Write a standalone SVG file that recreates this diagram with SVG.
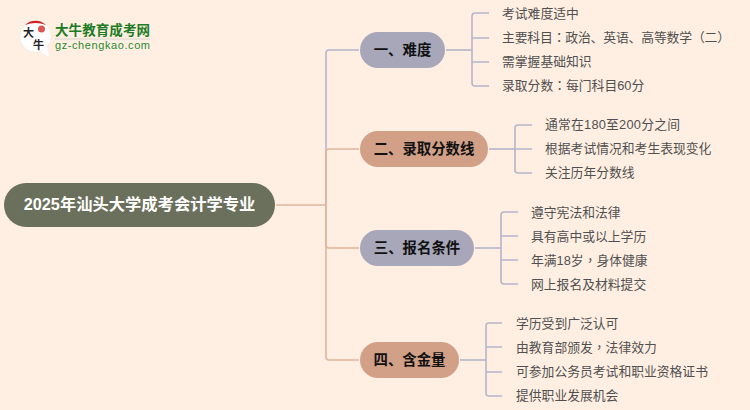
<svg xmlns="http://www.w3.org/2000/svg" width="750" height="410" viewBox="0 0 750 410">
<style>
text{font-family:"Liberation Sans","Noto Sans CJK SC",sans-serif}
.c{fill:none;stroke-width:1.6;stroke-linejoin:round}
.b{stroke:#b5b5cb}.o{stroke:#e0b49c}
.n{font-size:14.400px;font-weight:700;fill:#111;text-anchor:middle}
.l{font-size:12.800px;fill:#505050}
.t{font-family:"Liberation Sans","Noto Sans CJK TC",sans-serif}
.pb{fill:#a7a7b9}.po{fill:#d1a086}
</style>
<rect width="750" height="410" fill="#ffefe2"/>
<g id="logo">
<circle cx="35.500" cy="36.500" r="15.700" fill="#fff" stroke="#e5e5e5" stroke-width="0.500"/>
<path d="M47 47l-6 5 8 5z" fill="#fff"/>
<path d="M25 25a15 15 0 0 1 21 0q-10-4-21 0z" fill="#c22"/>
<circle cx="41.500" cy="29" r="3.500" fill="#d55"/>
<text x="23" y="37" font-size="11" font-weight="700" fill="#222">大</text>
<text x="33" y="48.500" font-size="11" font-weight="700" fill="#222">牛</text>
<text x="55" y="35" font-size="13.500" font-weight="700" fill="#1c7c25" textLength="95">大牛教育成考网</text>
<rect x="55" y="38.500" width="95" height="1" fill="#d8d8c8"/>
<text x="55" y="49" font-size="11" font-weight="400" fill="#2a8a32" textLength="95">gz-chengkao.com</text>
</g>
<g id="connectors">
<path class="c o" d="M276 205H326"/>
<path class="c b" d="M326 205V53a3 3 0 0 1 3-3H359"/>
<path class="c o" d="M326 205V152a3 3 0 0 1 3-3H359"/>
<path class="c o" d="M326 205V245a3 3 0 0 0 3 3H359"/>
<path class="c o" d="M326 205V357a3 3 0 0 0 3 3H359"/>
<path class="c b" d="M446 50H472"/>
<path class="c b" d="M472 16a3 3 0 0 1 3-3H489M472 16V83a3 3 0 0 0 3 3H489M472 38H489M472 62H489"/>
<path class="c b" d="M489 149H515"/>
<path class="c b" d="M515 128a3 3 0 0 1 3-3H532M515 128V170a3 3 0 0 0 3 3H532M515 149H532"/>
<path class="c b" d="M475 248H501"/>
<path class="c b" d="M501 215a3 3 0 0 1 3-3H518M501 215V281a3 3 0 0 0 3 3H518M501 236H518M501 260H518"/>
<path class="c b" d="M460 360H486"/>
<path class="c b" d="M486 326a3 3 0 0 1 3-3H502M486 326V393a3 3 0 0 0 3 3H502M486 347H502M486 372H502"/>
</g>
<g id="root"><rect x="4" y="183" width="271" height="44" rx="22" fill="#6b705c"/><text x="139.500" y="210" font-size="16.300" font-weight="700" fill="#fff" text-anchor="middle">2025年汕头大学成考会计学专业</text></g>
<g id="n1"><rect x="360" y="32" width="85" height="36" rx="18" class="pb"/><text x="402.500" y="55" class="n">一、难度</text></g>
<g id="n2"><rect x="360" y="131" width="128" height="36" rx="18" class="po"/><text x="424" y="154" class="n">二、录取分数线</text></g>
<g id="n3"><rect x="360" y="230" width="114" height="36" rx="18" class="pb"/><text x="417" y="253" class="n">三、报名条件</text></g>
<g id="n4"><rect x="360" y="342" width="99" height="36" rx="18" class="po"/><text x="409.500" y="365" class="n">四、含金量</text></g>
<g id="leaves">
<text class="l" x="502" y="18">考试难度适中</text>
<text class="l" x="502" y="42" textLength="228">主要科目<tspan class="t">：</tspan>政治、英语、高等数学<tspan class="t">（</tspan>二<tspan class="t">）</tspan></text>
<text class="l" x="502" y="66">需掌握基础知识</text>
<text class="l" x="502" y="90">录取分数<tspan class="t">：</tspan>每门科目60分</text>
<text class="l" x="545" y="129" textLength="135">通常在180至200分之间</text>
<text class="l" x="545" y="153">根据考试情况和考生表现变化</text>
<text class="l" x="545" y="177">关注历年分数线</text>
<text class="l" x="531" y="216.500">遵守宪法和法律</text>
<text class="l" x="531" y="240.500">具有高中或以上学历</text>
<text class="l" x="531" y="264.500">年满18岁<tspan class="t">，</tspan>身体健康</text>
<text class="l" x="531" y="288.500">网上报名及材料提交</text>
<text class="l" x="516" y="328">学历受到广泛认可</text>
<text class="l" x="516" y="352">由教育部颁发<tspan class="t">，</tspan>法律效力</text>
<text class="l" x="516" y="376">可参加公务员考试和职业资格证书</text>
<text class="l" x="516" y="400">提供职业发展机会</text>
</g>
</svg>
